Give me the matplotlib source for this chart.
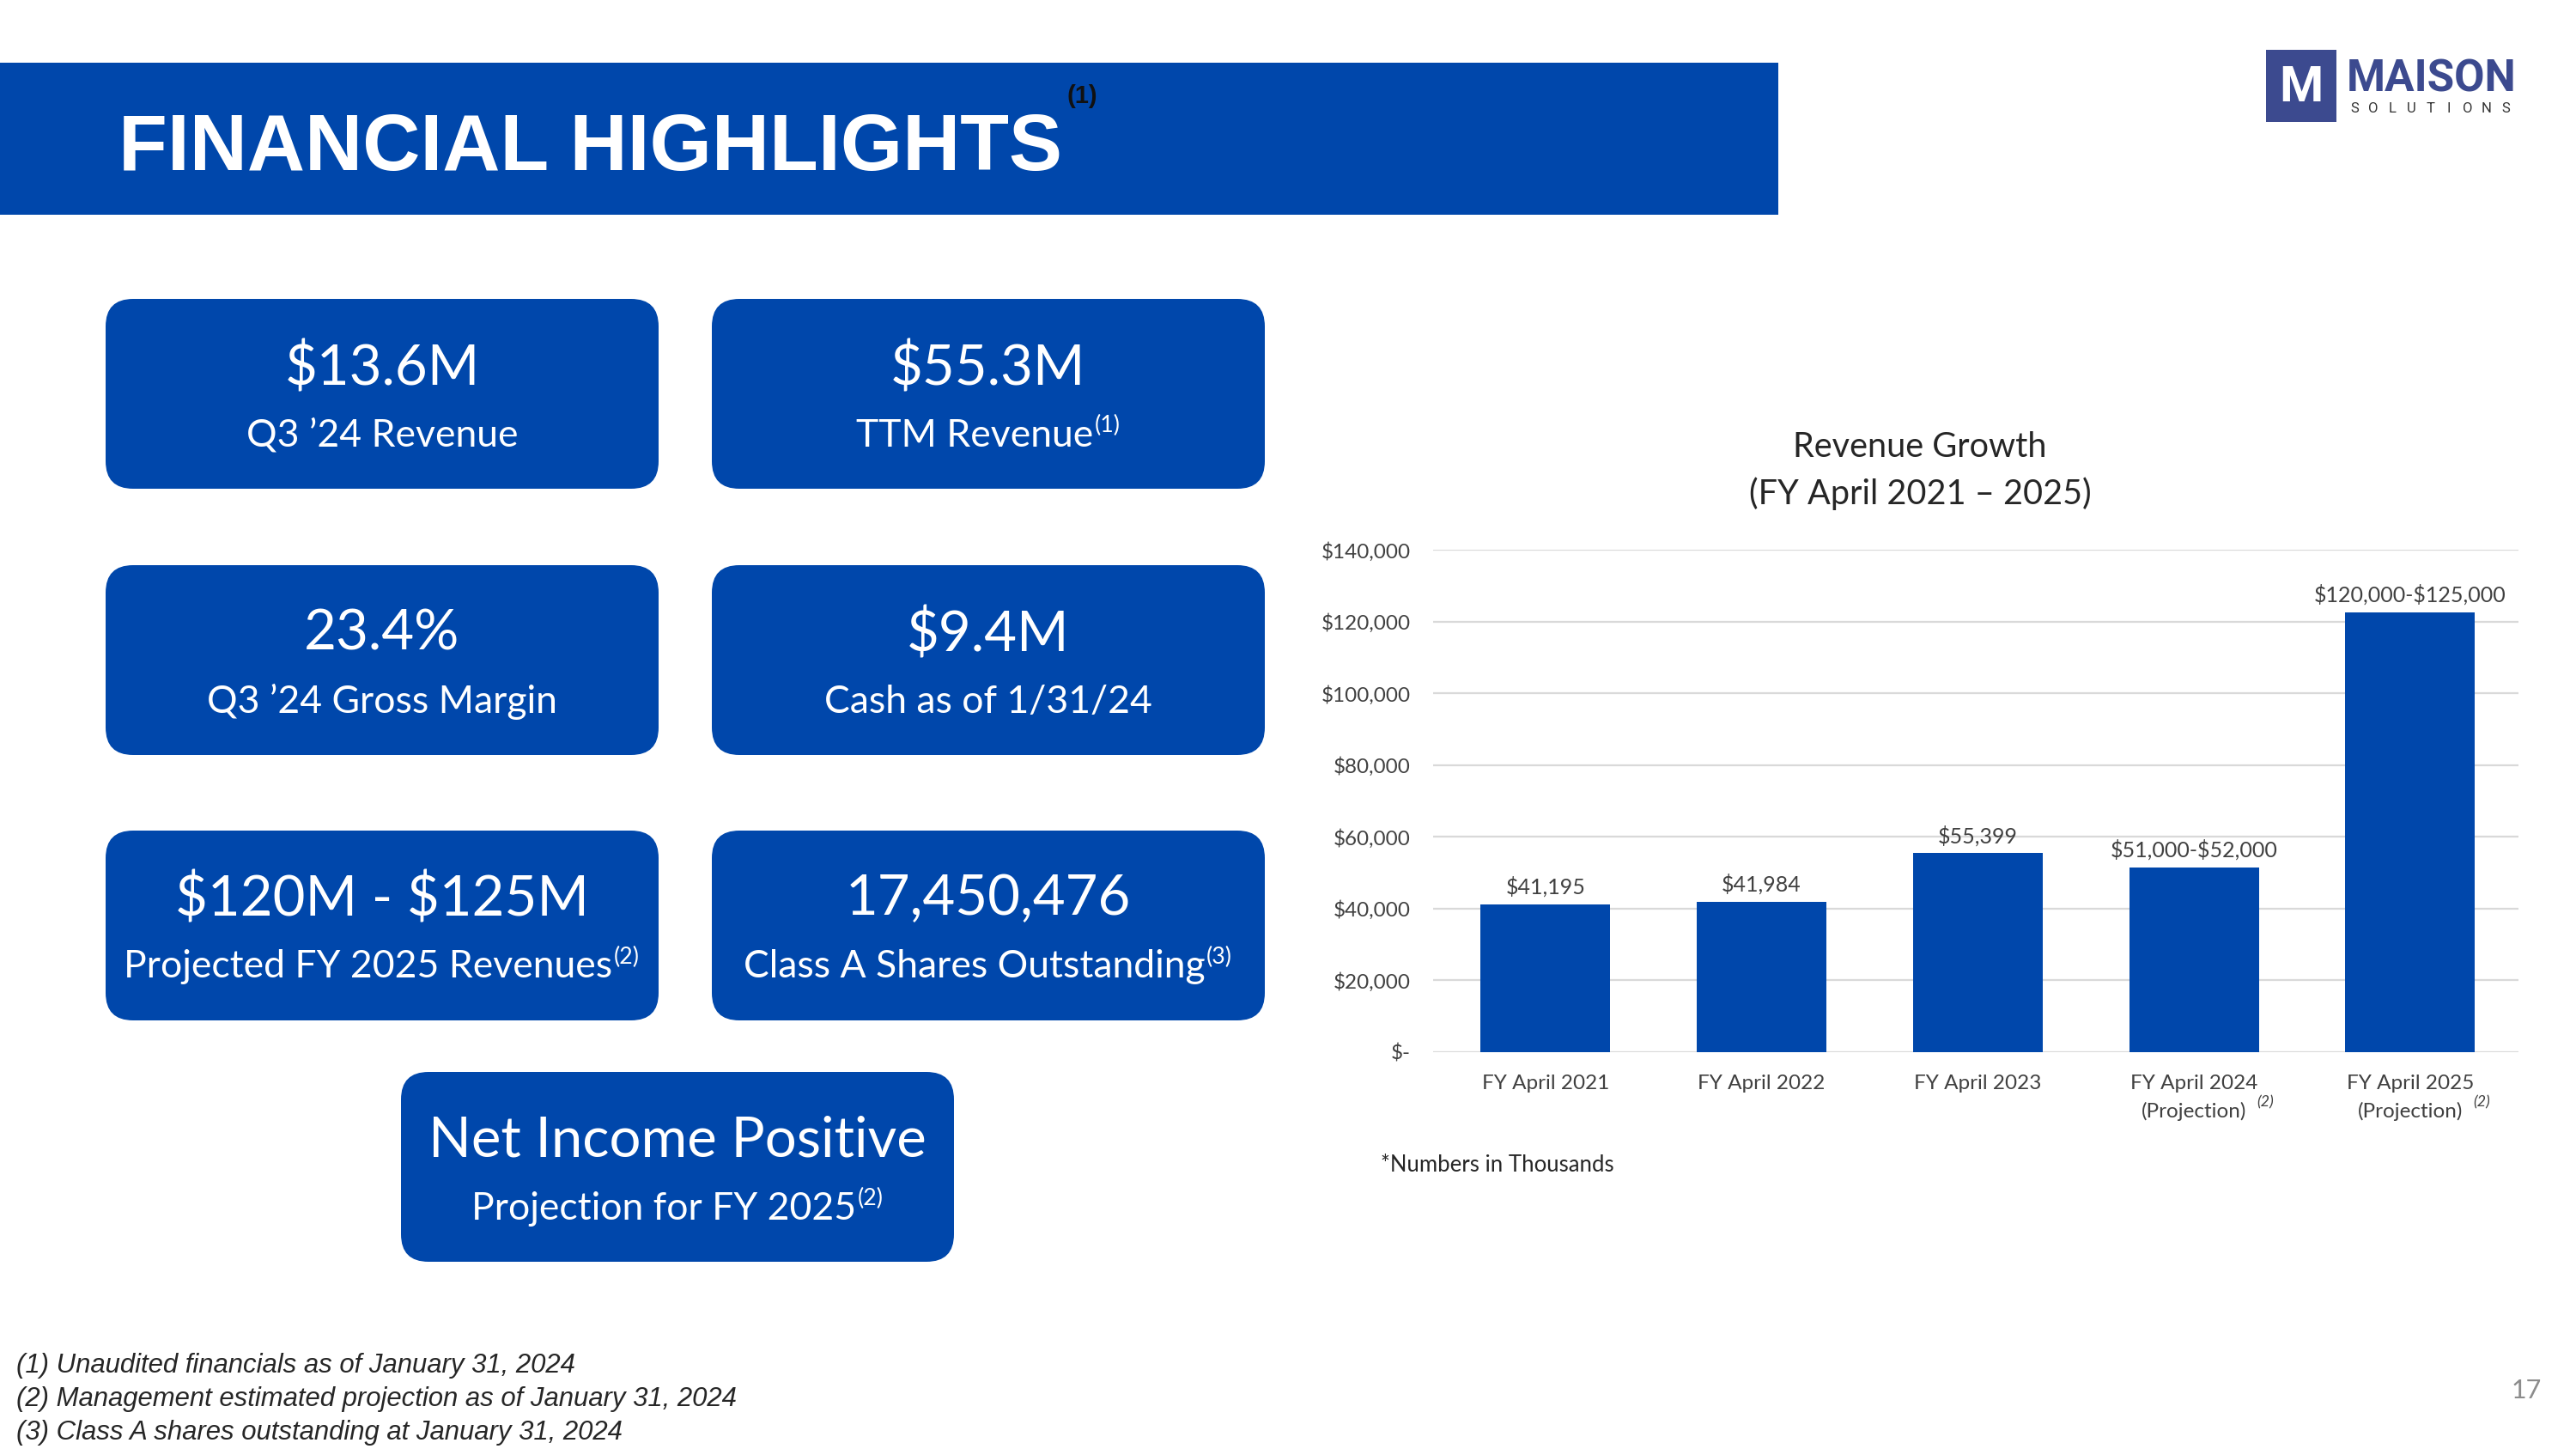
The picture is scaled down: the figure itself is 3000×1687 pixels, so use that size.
import matplotlib
matplotlib.use("Agg")
import matplotlib.pyplot as plt
from matplotlib.patches import FancyBboxPatch, Rectangle
from matplotlib.ticker import FuncFormatter
import numpy as np

plt.rcParams['font.family'] = ['Lato', 'DejaVu Sans']

BLUE = '#0047AB'

# chart data (thousands of USD)
years = ['FY April 2021', 'FY April 2022', 'FY April 2023',
         'FY April 2024\n(Projection)', 'FY April 2025\n(Projection)']
year_notes = ['', '', '', '(2)', '(2)']
revenue = [41195, 41984, 55399, 51500, 122500]
bar_labels = ['\\$41,195', '\\$41,984', '\\$55,399', '\\$51,000-\\$52,000', '\\$120,000-\\$125,000']
y_ticks = [0, 20000, 40000, 60000, 80000, 100000, 120000, 140000]

# highlight tiles
tile_values = ['\\$13.6M', '\\$55.3M', '23.4%', '\\$9.4M', '\\$120M - \\$125M',
               '17,450,476', 'Net Income Positive']
tile_texts = ['Q3 \u201924 Revenue', 'TTM Revenue', 'Q3 \u201924 Gross Margin',
              'Cash as of 1/31/24', 'Projected FY 2025 Revenues',
              'Class A Shares Outstanding', 'Projection for FY 2025']
tile_notes = ['', '(1)', '', '', '(2)', '(3)', '(2)']
tile_pos = [(123, 348), (829, 348), (123, 658), (829, 658),
            (123, 967), (829, 967), (467, 1248)]

footnotes = ['(1) Unaudited financials as of January 31, 2024',
             '(2) Management estimated projection as of January 31, 2024',
             '(3) Class A shares outstanding at January 31, 2024']

fig = plt.figure(figsize=(30, 16.87), dpi=100)
bg = fig.add_axes([0, 0, 1, 1])
bg.set_xlim(0, 3000)
bg.set_ylim(1687, 0)
bg.axis('off')

# header band
bg.add_patch(Rectangle((0, 73), 2071, 177, color=BLUE, lw=0))
bg.text(138, 198, 'FINANCIAL HIGHLIGHTS', color='white', fontsize=67, fontweight='bold',
        family='Liberation Sans', va='baseline', ha='left')
bg.text(1243, 112, '(1)', color='#111111', fontsize=21, fontweight='bold',
        family='Liberation Sans', va='center', ha='left')

# logo
bg.add_patch(Rectangle((2639, 58), 82, 84, color='#3C4A8F', lw=0))
bg.text(2680, 102, 'M', color='white', fontsize=42, fontweight='bold',
        family='Roboto', ha='center', va='center')
bg.text(2733, 92, 'MAISON', color='#3C4A8F', fontsize=37, fontweight='bold',
        family='Roboto', ha='left', va='center')
for ch, xx in zip('SOLUTIONS', np.linspace(2742, 2918, 9)):
    bg.text(xx, 126, ch, color='#333333', fontsize=12, family='Roboto',
            ha='center', va='center')

# tiles
w, h = 644, 221
sub_size = 32
for (x0, y0), val, txt, note in zip(tile_pos, tile_values, tile_texts, tile_notes):
    bg.add_patch(FancyBboxPatch((x0, y0), w, h, boxstyle='round,pad=0,rounding_size=32',
                                fc=BLUE, ec='none'))
    bg.text(x0 + w / 2, y0 + 80, val, color='white', fontsize=47,
            ha='center', va='center')
    shift = 16 if note else 0
    t = bg.text(x0 + w / 2 - shift, y0 + 159, txt, color='white', fontsize=sub_size,
                ha='center', va='center')
    if note:
        bg.annotate(note, xy=(1, 0.78), xycoords=t, xytext=(1, 0), textcoords='offset points',
                    ha='left', va='center', fontsize=sub_size * 0.6, color='white')

# chart
ax = fig.add_axes([0.5563, 0.2739, 0.4213, 0.3467])
ax.set_facecolor('none')
x = np.arange(len(years))
bars = ax.bar(x, revenue, width=0.6, color=BLUE, zorder=3)
for b, lab in zip(bars, bar_labels):
    ax.annotate(lab, (b.get_x() + b.get_width() / 2, b.get_height()),
                xytext=(0, 6), textcoords='offset points', ha='center', va='bottom',
                fontsize=18, color='#404040')
ax.set_xlim(-0.52, 4.5)
ax.set_ylim(0, 140000)
ax.set_yticks(y_ticks)
ax.yaxis.set_major_formatter(FuncFormatter(lambda v, p: '\\$-' if v == 0 else '\\${:,.0f}'.format(v)))
ax.set_xticks(x)
ax.set_xticklabels(years)
for lbl in ax.get_xticklabels():
    lbl.set_linespacing(1.6)
ax.tick_params(axis='y', length=0, pad=19, labelsize=17.5, labelcolor='#404040')
ax.tick_params(axis='x', length=0, pad=19, labelsize=17.5, labelcolor='#404040')
ax.grid(axis='y', color='#D9D9D9', lw=1.6, zorder=0)
for s in ax.spines.values():
    s.set_visible(False)
for i, note in enumerate(year_notes):
    if note:
        ax.annotate(note, xy=(i, 0), xycoords=('data', 'axes fraction'),
                    xytext=(60, -42), textcoords='offset points', ha='center', va='center',
                    fontsize=13, style='italic', color='#404040')

bg.text(2236, 521, 'Revenue Growth', fontsize=28.5, color='#262626', ha='center', va='center')
bg.text(2236, 575, '(FY April 2021 \u2013 2025)', fontsize=28.5, color='#262626', ha='center', va='center')
bg.text(1608, 1356, '*Numbers in Thousands', fontsize=18.5, color='#262626', ha='left', va='center')

# footnotes
for i, t in enumerate(footnotes):
    bg.text(19, 1590 + i * 39, t, fontsize=22.4, style='italic', family='Liberation Sans',
            color='#262626', ha='left', va='center')
bg.text(2942, 1619, '17', fontsize=22, color='#8C8C8C', ha='center', va='center')

fig.savefig('out.png', dpi=100)
